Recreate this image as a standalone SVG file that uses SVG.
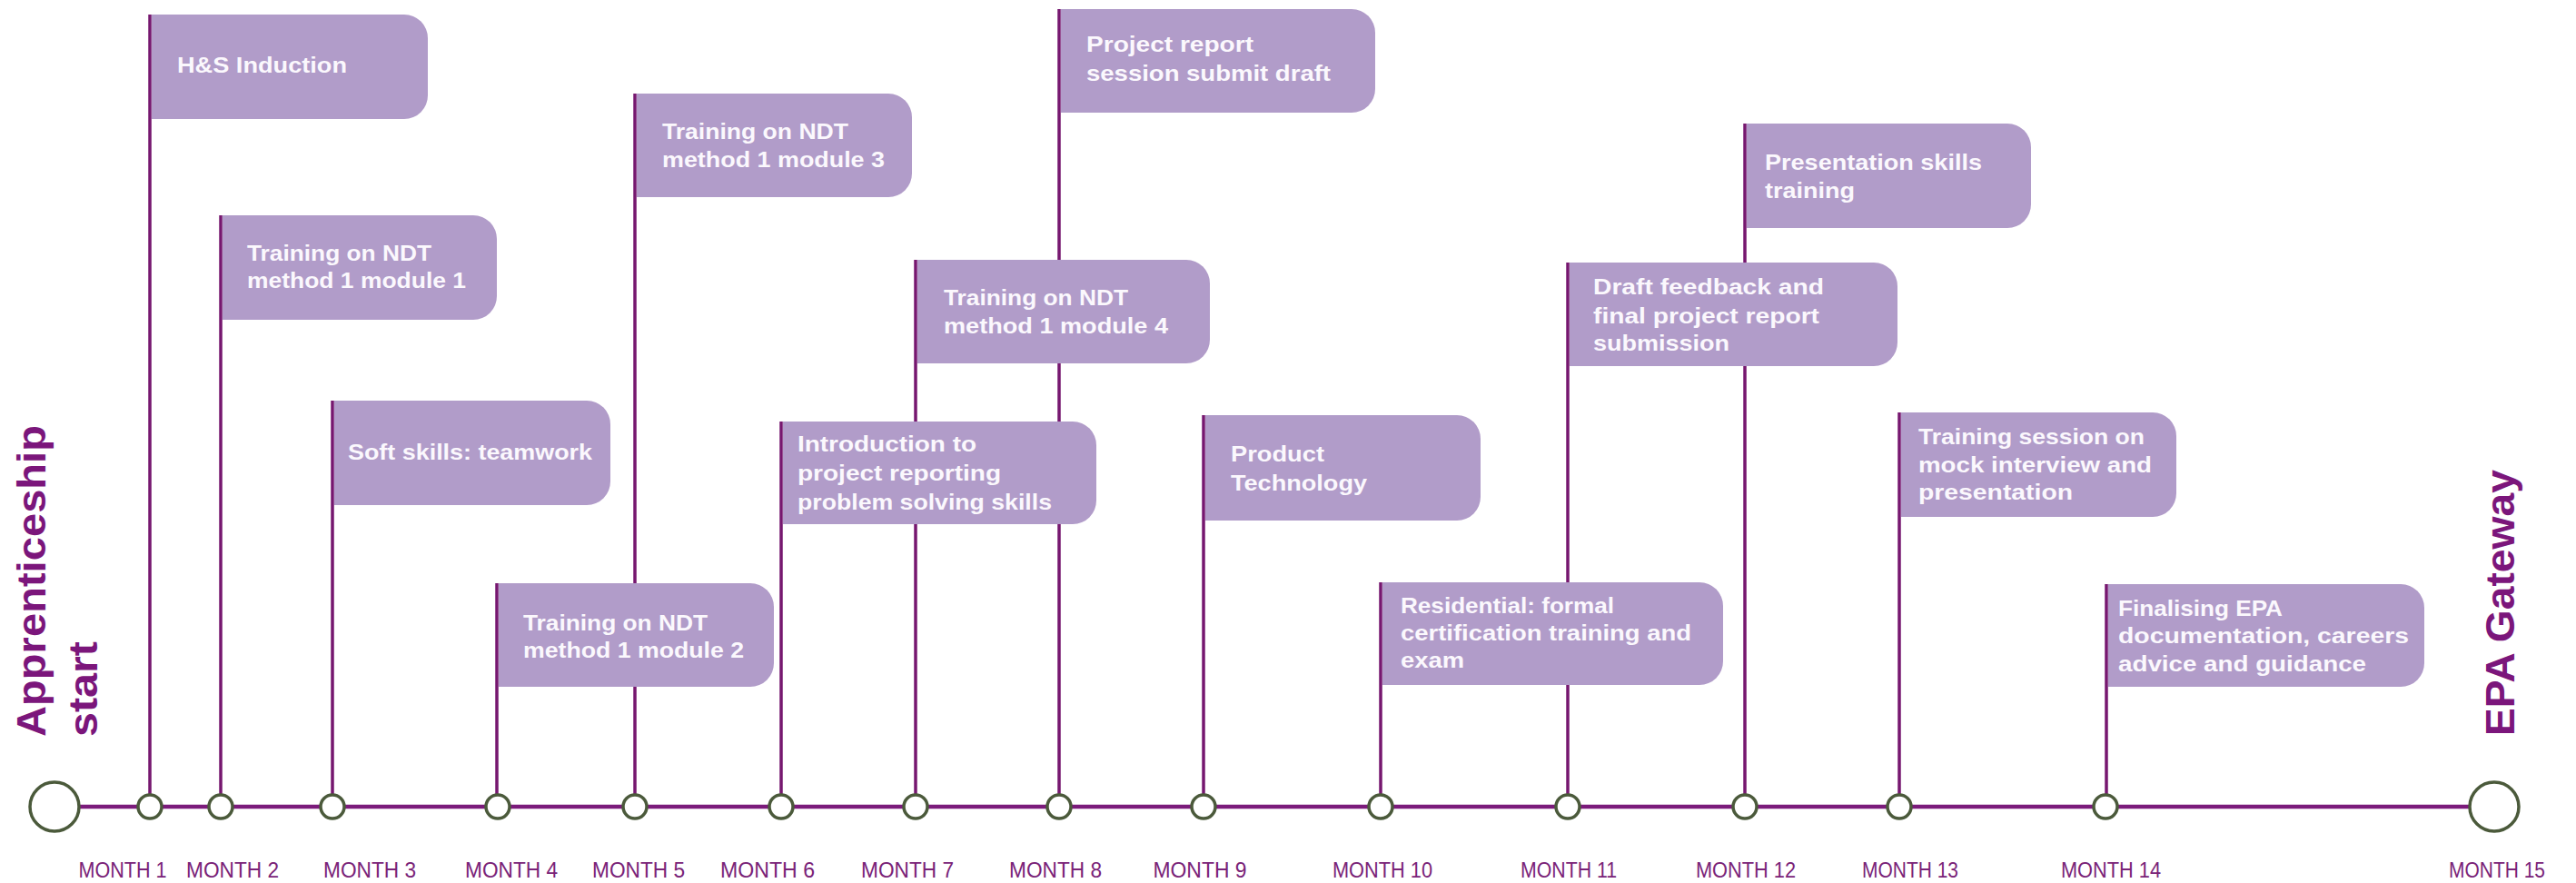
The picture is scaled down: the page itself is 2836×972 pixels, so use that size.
<svg xmlns="http://www.w3.org/2000/svg" width="2836" height="972" viewBox="0 0 2836 972">
<style>
.bg{fill:#ffffff}
.stem{stroke:#76176f;stroke-width:3.5;fill:none}
.axis{stroke:#7b1b7b;stroke-width:4.5;fill:none}
.dot{fill:#ffffff;stroke:#4b5a3b;stroke-width:3.5}
.big{fill:#ffffff;stroke:#4b5a3b;stroke-width:3.5}
.box{fill:#b19cc9}
.bt{font-family:"Liberation Sans",Arial,sans-serif;font-weight:700;font-size:24px;fill:#fbf8fd}
.ml{font-family:"Liberation Sans",Arial,sans-serif;font-size:23px;fill:#7a2378;text-anchor:middle}
.title{font-family:"Liberation Sans",Arial,sans-serif;font-weight:700;font-size:45px;fill:#7b167b}
</style>
<rect class="bg" x="0" y="0" width="2836" height="972"/>

<g id="connectors">
<line class="axis" x1="87" y1="888" x2="2718" y2="888"/>
<line class="stem" x1="165" y1="16" x2="165" y2="888"/>
<line class="stem" x1="243" y1="237" x2="243" y2="888"/>
<line class="stem" x1="366" y1="441" x2="366" y2="888"/>
<line class="stem" x1="547" y1="642" x2="547" y2="888"/>
<line class="stem" x1="699" y1="103" x2="699" y2="888"/>
<line class="stem" x1="860" y1="464" x2="860" y2="888"/>
<line class="stem" x1="1008" y1="286" x2="1008" y2="888"/>
<line class="stem" x1="1166" y1="10" x2="1166" y2="888"/>
<line class="stem" x1="1325" y1="457" x2="1325" y2="888"/>
<line class="stem" x1="1520" y1="641" x2="1520" y2="888"/>
<line class="stem" x1="1726" y1="289" x2="1726" y2="888"/>
<line class="stem" x1="1921" y1="136" x2="1921" y2="888"/>
<line class="stem" x1="2091" y1="454" x2="2091" y2="888"/>
<line class="stem" x1="2319" y1="643" x2="2319" y2="888"/>
</g>

<g id="start">
<circle class="big" cx="60" cy="888" r="27"/>
<g transform="translate(50,811) rotate(-90)"><text class="title" x="0" y="0" textLength="343" lengthAdjust="spacingAndGlyphs">Apprenticeship</text></g>
<g transform="translate(107,811) rotate(-90)"><text class="title" x="0" y="0" textLength="105" lengthAdjust="spacingAndGlyphs">start</text></g>
</g>
<g id="end">
<circle class="big" cx="2746" cy="888" r="27"/>
<g transform="translate(2768,810) rotate(-90)"><text class="title" x="0" y="0" textLength="293" lengthAdjust="spacingAndGlyphs">EPA Gateway</text></g>
</g>

<g id="event1">
<path class="box" d="M167,16 H445 A26,26 0 0 1 471,42 V105 A26,26 0 0 1 445,131 H167 Z"/>
<text class="bt" x="195" y="80" textLength="187" lengthAdjust="spacingAndGlyphs">H&amp;S Induction</text>
</g>
<g id="event2">
<path class="box" d="M245,237 H521 A26,26 0 0 1 547,263 V326 A26,26 0 0 1 521,352 H245 Z"/>
<text class="bt" x="272" y="287" textLength="203" lengthAdjust="spacingAndGlyphs">Training on NDT</text>
<text class="bt" x="272" y="317" textLength="241" lengthAdjust="spacingAndGlyphs">method 1 module 1</text>
</g>
<g id="event3">
<path class="box" d="M368,441 H646 A26,26 0 0 1 672,467 V530 A26,26 0 0 1 646,556 H368 Z"/>
<text class="bt" x="383" y="506" textLength="269" lengthAdjust="spacingAndGlyphs">Soft skills: teamwork</text>
</g>
<g id="event4">
<path class="box" d="M549,642 H826 A26,26 0 0 1 852,668 V730 A26,26 0 0 1 826,756 H549 Z"/>
<text class="bt" x="576" y="694" textLength="203" lengthAdjust="spacingAndGlyphs">Training on NDT</text>
<text class="bt" x="576" y="724" textLength="243" lengthAdjust="spacingAndGlyphs">method 1 module 2</text>
</g>
<g id="event5">
<path class="box" d="M701,103 H978 A26,26 0 0 1 1004,129 V191 A26,26 0 0 1 978,217 H701 Z"/>
<text class="bt" x="729" y="153" textLength="205" lengthAdjust="spacingAndGlyphs">Training on NDT</text>
<text class="bt" x="729" y="184" textLength="245" lengthAdjust="spacingAndGlyphs">method 1 module 3</text>
</g>
<g id="event6">
<path class="box" d="M862,464 H1181 A26,26 0 0 1 1207,490 V551 A26,26 0 0 1 1181,577 H862 Z"/>
<text class="bt" x="878" y="497" textLength="197" lengthAdjust="spacingAndGlyphs">Introduction to</text>
<text class="bt" x="878" y="529" textLength="224" lengthAdjust="spacingAndGlyphs">project reporting</text>
<text class="bt" x="878" y="561" textLength="280" lengthAdjust="spacingAndGlyphs">problem solving skills</text>
</g>
<g id="event7">
<path class="box" d="M1010,286 H1306 A26,26 0 0 1 1332,312 V374 A26,26 0 0 1 1306,400 H1010 Z"/>
<text class="bt" x="1039" y="336" textLength="203" lengthAdjust="spacingAndGlyphs">Training on NDT</text>
<text class="bt" x="1039" y="367" textLength="247" lengthAdjust="spacingAndGlyphs">method 1 module 4</text>
</g>
<g id="event8">
<path class="box" d="M1168,10 H1488 A26,26 0 0 1 1514,36 V98 A26,26 0 0 1 1488,124 H1168 Z"/>
<text class="bt" x="1196" y="57" textLength="184" lengthAdjust="spacingAndGlyphs">Project report</text>
<text class="bt" x="1196" y="89" textLength="269" lengthAdjust="spacingAndGlyphs">session submit draft</text>
</g>
<g id="event9">
<path class="box" d="M1327,457 H1604 A26,26 0 0 1 1630,483 V547 A26,26 0 0 1 1604,573 H1327 Z"/>
<text class="bt" x="1355" y="508" textLength="103" lengthAdjust="spacingAndGlyphs">Product</text>
<text class="bt" x="1355" y="540" textLength="150" lengthAdjust="spacingAndGlyphs">Technology</text>
</g>
<g id="event10">
<path class="box" d="M1522,641 H1871 A26,26 0 0 1 1897,667 V728 A26,26 0 0 1 1871,754 H1522 Z"/>
<text class="bt" x="1542" y="675" textLength="235" lengthAdjust="spacingAndGlyphs">Residential: formal</text>
<text class="bt" x="1542" y="705" textLength="320" lengthAdjust="spacingAndGlyphs">certification training and</text>
<text class="bt" x="1542" y="735" textLength="70" lengthAdjust="spacingAndGlyphs">exam</text>
</g>
<g id="event11">
<path class="box" d="M1728,289 H2063 A26,26 0 0 1 2089,315 V377 A26,26 0 0 1 2063,403 H1728 Z"/>
<text class="bt" x="1754" y="324" textLength="254" lengthAdjust="spacingAndGlyphs">Draft feedback and</text>
<text class="bt" x="1754" y="356" textLength="249" lengthAdjust="spacingAndGlyphs">final project report</text>
<text class="bt" x="1754" y="386" textLength="150" lengthAdjust="spacingAndGlyphs">submission</text>
</g>
<g id="event12">
<path class="box" d="M1923,136 H2210 A26,26 0 0 1 2236,162 V225 A26,26 0 0 1 2210,251 H1923 Z"/>
<text class="bt" x="1943" y="187" textLength="239" lengthAdjust="spacingAndGlyphs">Presentation skills</text>
<text class="bt" x="1943" y="218" textLength="99" lengthAdjust="spacingAndGlyphs">training</text>
</g>
<g id="event13">
<path class="box" d="M2093,454 H2370 A26,26 0 0 1 2396,480 V543 A26,26 0 0 1 2370,569 H2093 Z"/>
<text class="bt" x="2112" y="489" textLength="249" lengthAdjust="spacingAndGlyphs">Training session on</text>
<text class="bt" x="2112" y="520" textLength="257" lengthAdjust="spacingAndGlyphs">mock interview and</text>
<text class="bt" x="2112" y="550" textLength="170" lengthAdjust="spacingAndGlyphs">presentation</text>
</g>
<g id="event14">
<path class="box" d="M2321,643 H2643 A26,26 0 0 1 2669,669 V730 A26,26 0 0 1 2643,756 H2321 Z"/>
<text class="bt" x="2332" y="678" textLength="181" lengthAdjust="spacingAndGlyphs">Finalising EPA</text>
<text class="bt" x="2332" y="708" textLength="320" lengthAdjust="spacingAndGlyphs">documentation, careers</text>
<text class="bt" x="2332" y="739" textLength="273" lengthAdjust="spacingAndGlyphs">advice and guidance</text>
</g>

<g id="month1"><circle class="dot" cx="165" cy="888" r="13"/><text class="ml" x="135" y="966" textLength="97" lengthAdjust="spacingAndGlyphs">MONTH 1</text></g>
<g id="month2"><circle class="dot" cx="243" cy="888" r="13"/><text class="ml" x="256" y="966" textLength="102" lengthAdjust="spacingAndGlyphs">MONTH 2</text></g>
<g id="month3"><circle class="dot" cx="366" cy="888" r="13"/><text class="ml" x="407" y="966" textLength="102" lengthAdjust="spacingAndGlyphs">MONTH 3</text></g>
<g id="month4"><circle class="dot" cx="548" cy="888" r="13"/><text class="ml" x="563" y="966" textLength="102" lengthAdjust="spacingAndGlyphs">MONTH 4</text></g>
<g id="month5"><circle class="dot" cx="699" cy="888" r="13"/><text class="ml" x="703" y="966" textLength="102" lengthAdjust="spacingAndGlyphs">MONTH 5</text></g>
<g id="month6"><circle class="dot" cx="860" cy="888" r="13"/><text class="ml" x="845" y="966" textLength="104" lengthAdjust="spacingAndGlyphs">MONTH 6</text></g>
<g id="month7"><circle class="dot" cx="1008" cy="888" r="13"/><text class="ml" x="999" y="966" textLength="102" lengthAdjust="spacingAndGlyphs">MONTH 7</text></g>
<g id="month8"><circle class="dot" cx="1166" cy="888" r="13"/><text class="ml" x="1162" y="966" textLength="102" lengthAdjust="spacingAndGlyphs">MONTH 8</text></g>
<g id="month9"><circle class="dot" cx="1325" cy="888" r="13"/><text class="ml" x="1321" y="966" textLength="103" lengthAdjust="spacingAndGlyphs">MONTH 9</text></g>
<g id="month10"><circle class="dot" cx="1520" cy="888" r="13"/><text class="ml" x="1522" y="966" textLength="110" lengthAdjust="spacingAndGlyphs">MONTH 10</text></g>
<g id="month11"><circle class="dot" cx="1726" cy="888" r="13"/><text class="ml" x="1727" y="966" textLength="106" lengthAdjust="spacingAndGlyphs">MONTH 11</text></g>
<g id="month12"><circle class="dot" cx="1921" cy="888" r="13"/><text class="ml" x="1922" y="966" textLength="110" lengthAdjust="spacingAndGlyphs">MONTH 12</text></g>
<g id="month13"><circle class="dot" cx="2091" cy="888" r="13"/><text class="ml" x="2103" y="966" textLength="106" lengthAdjust="spacingAndGlyphs">MONTH 13</text></g>
<g id="month14"><circle class="dot" cx="2318" cy="888" r="13"/><text class="ml" x="2324" y="966" textLength="110" lengthAdjust="spacingAndGlyphs">MONTH 14</text></g>
<g id="month15"><text class="ml" x="2749" y="966" textLength="106" lengthAdjust="spacingAndGlyphs">MONTH 15</text></g>
</svg>
